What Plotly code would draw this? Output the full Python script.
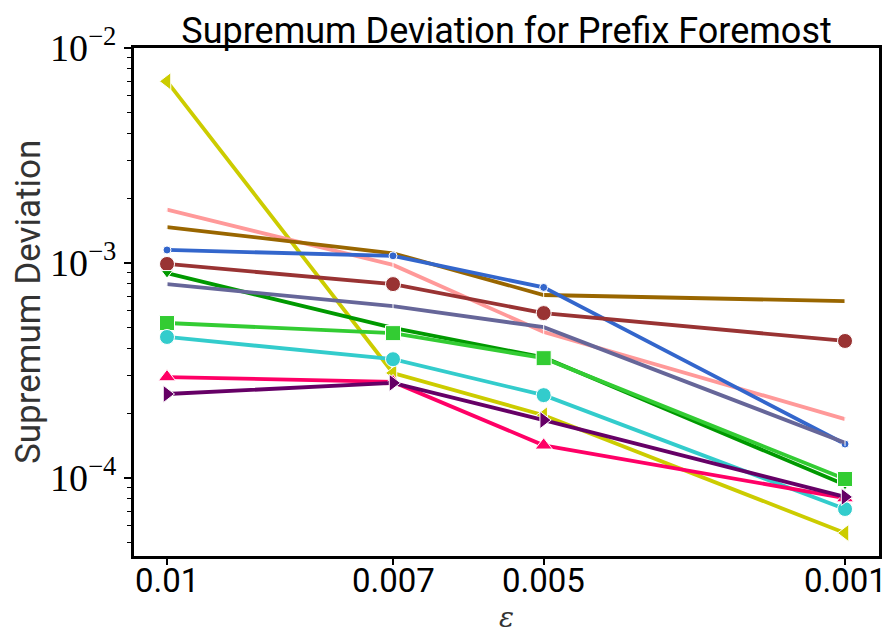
import plotly.graph_objects as go

# epsilon values on the x axis
eps = [0.01, 0.007, 0.005, 0.001]
eps_labels = ["0.01", "0.007", "0.005", "0.001"]

# supremum deviation per configuration
dev_yellow = [7.0e-3, 3.08e-4, 1.96e-4, 5.55e-5]
dev_salmon = [1.77e-3, 9.8e-4, 4.78e-4, 1.88e-4]
dev_gold = [1.47e-3, 1.11e-3, 7.1e-4, 6.65e-4]
dev_blue = [1.15e-3, 1.08e-3, 7.7e-4, 1.44e-4]
dev_darkred = [9.9e-4, 7.98e-4, 5.85e-4, 4.34e-4]
dev_green = [8.98e-4, 4.99e-4, 3.64e-4, 9.3e-5]
dev_slate = [7.98e-4, 6.3e-4, 5.03e-4, 1.46e-4]
dev_lime = [5.26e-4, 4.72e-4, 3.61e-4, 9.9e-5]
dev_cyan = [4.53e-4, 3.57e-4, 2.43e-4, 7.18e-5]
dev_rose = [2.95e-4, 2.8e-4, 1.42e-4, 8.07e-5]
dev_purple = [2.46e-4, 2.77e-4, 1.86e-4, 8.17e-5]

y_major = [1e-4, 1e-3, 1e-2]
y_major_text = ["10<sup>−4</sup>", "10<sup>−3</sup>", "10<sup>−2</sup>"]
y_minor = [m * 10.0 ** e for e in (-5, -4, -3) for m in range(2, 10)]

series = [
    (dev_yellow, "#cccc00", "triangle-left", 15),
    (dev_salmon, "#ff9999", "line-ns", 5),
    (dev_gold, "#996600", "line-ns", 5),
    (dev_blue, "#3366cc", "circle", 8),
    (dev_darkred, "#993333", "circle", 15),
    (dev_green, "#009900", "triangle-down", 10),
    (dev_slate, "#666699", "line-ns", 5),
    (dev_lime, "#33cc33", "square", 15),
    (dev_cyan, "#33cccc", "circle", 15),
    (dev_rose, "#ff0066", "triangle-up", 15),
    (dev_purple, "#660066", "triangle-right", 15),
]

fig = go.Figure()
for vals, color, symbol, size in series:
    fig.add_trace(go.Scatter(
        x=eps, y=vals, mode="lines+markers",
        line=dict(color=color, width=3.8),
        marker=dict(symbol=symbol, size=size, color=color,
                    line=dict(color="white", width=1)),
        showlegend=False,
    ))

# x tick labels placed just under the axis line
for xv, lab in zip(eps, eps_labels):
    fig.add_annotation(x=xv, xref="x", y=0, yref="paper", text=lab,
                       showarrow=False, xanchor="center", yanchor="middle",
                       yshift=-24, font=dict(family="Roboto", size=33, color="black"))

# axis titles
fig.add_annotation(x=0.5, xref="paper", y=0, yref="paper", text="<i>ε</i>",
                   showarrow=False, xanchor="center", yanchor="bottom", yshift=-80,
                   font=dict(family="DejaVu Serif", size=28, color="#333333"))
fig.add_annotation(x=0, xref="paper", y=0.5, yref="paper", text="Supremum Deviation",
                   showarrow=False, xanchor="center", yanchor="middle", xshift=-106,
                   textangle=-90, font=dict(family="Roboto", size=35, color="#333333"))

fig.update_layout(
    width=887, height=637,
    margin=dict(l=134, r=8, t=48, b=81, autoexpand=False),
    paper_bgcolor="white", plot_bgcolor="white",
    title=dict(text="Supremum Deviation for Prefix Foremost",
               x=0.5, xref="paper", xanchor="center",
               y=1, yref="paper", yanchor="bottom", pad=dict(b=5),
               font=dict(family="Roboto", size=36, color="black")),
)

fig.update_xaxes(
    range=[0.010438, 0.000549], automargin=False,
    tickmode="array", tickvals=eps, showticklabels=False,
    ticks="outside", ticklen=6, tickwidth=1.5, tickcolor="black",
    showgrid=False, zeroline=False,
    showline=True, linecolor="black", linewidth=3, mirror=True,
)

fig.update_yaxes(
    type="log", range=[-4.3625, -2], automargin=False,
    tickmode="array", tickvals=y_major, ticktext=y_major_text,
    ticks="outside", ticklen=7, tickwidth=1.5, tickcolor="black",
    tickfont=dict(family="Liberation Serif", size=38, color="black"),
    minor=dict(tickmode="array", tickvals=y_minor, ticks="outside",
               ticklen=4, tickwidth=1.2, tickcolor="black", showgrid=False),
    showgrid=False, zeroline=False,
    showline=True, linecolor="black", linewidth=3, mirror=True,
)

fig.write_html("out.html")
